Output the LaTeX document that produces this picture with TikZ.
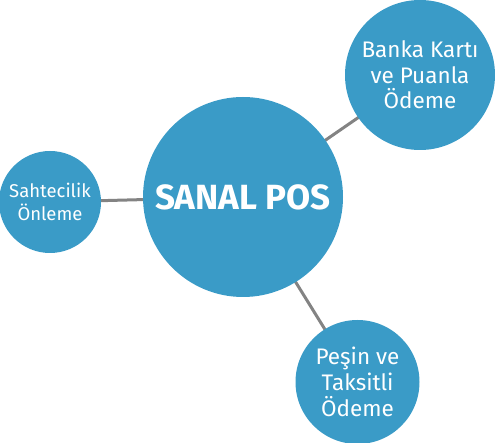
\documentclass[tikz,border=0pt]{standalone}
\usepackage{fontspec}
\setmainfont{Fira Sans}
\usepackage{xcolor}
\usepackage{tikz}
\usetikzlibrary{positioning,backgrounds}
\definecolor{posblue}{HTML}{3A9BC7}
\definecolor{linkgray}{HTML}{838383}

\begin{document}
\begin{tikzpicture}[
x=1pt,y=-1pt,
MainCircle/.style={circle,fill=posblue,text=white,inner sep=0pt,minimum size=200pt,font=\fontsize{35}{40}\selectfont\bfseries},
SideCircle/.style={circle,fill=posblue,text=white,inner sep=0pt,align=center},
Links/.style={draw=linkgray,line width=3pt}
]
\useasboundingbox (0,0) rectangle (495,443);

% central circle
\node [MainCircle] (pos) at (243,197) {SANAL POS};

% satellites
\node [SideCircle,minimum size=102pt,font=\fontsize{18.5}{22.3}\selectfont] (fraud) at (50,202) {Sahtecilik\\Önleme};
\node [SideCircle,minimum size=150pt,font=\fontsize{22.5}{25.5}\selectfont] (card) at (420,75) {Banka Kartı\\ve Puanla\\Ödeme};
\node [SideCircle,minimum size=124pt,font=\fontsize{22.5}{26}\selectfont] (inst) at (357.5,382) {Peşin ve\\Taksitli\\Ödeme};

\begin{scope}[on background layer]
\draw[Links] (pos.center) -- (fraud.center);
\draw[Links] (pos.center) -- (card.center);
\draw[Links] (pos.center) -- (inst.center);
\end{scope}

\end{tikzpicture}
\end{document}
